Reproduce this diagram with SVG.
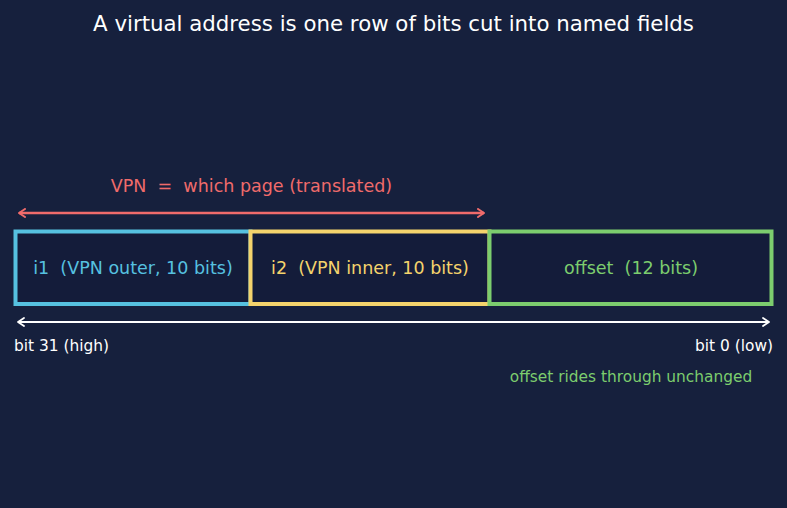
<svg xmlns="http://www.w3.org/2000/svg" width="787" height="508" viewBox="0 0 787 508">
<defs>
<style>
text{font-family:"DejaVu Sans","Liberation Sans",sans-serif;white-space:pre}
.field{fill:#141c3a;stroke-width:4}
.lbl{font-size:17.5px;text-anchor:middle}
.small{font-size:15.4px}
</style>
<marker id="ahRed" viewBox="0 0 10 10" refX="8" refY="5" markerWidth="10" markerHeight="10" markerUnits="userSpaceOnUse" orient="auto-start-reverse">
<polyline points="2,1 8,5 2,9" fill="none" stroke="#f06b6b" stroke-width="2" stroke-linecap="round" stroke-linejoin="round"/>
</marker>
<marker id="ahWhite" viewBox="0 0 10 10" refX="8" refY="5" markerWidth="10" markerHeight="10" markerUnits="userSpaceOnUse" orient="auto-start-reverse">
<polyline points="2,1 8,5 2,9" fill="none" stroke="#ffffff" stroke-width="1.8" stroke-linecap="round" stroke-linejoin="round"/>
</marker>
</defs>
<rect x="0" y="0" width="787" height="508" fill="#16203d"/>
<text x="393.5" y="31" font-size="21.3" fill="#ffffff" text-anchor="middle">A virtual address is one row of bits cut into named fields</text>
<g id="i1">
<rect class="field" x="15.5" y="231.5" width="235" height="72.5" stroke="#56c1e0"/>
<text class="lbl" x="133" y="273.5" fill="#56c1e0" xml:space="preserve">i1  (VPN outer, 10 bits)</text>
</g>
<g id="i2">
<rect class="field" x="250.5" y="231.5" width="239" height="72.5" stroke="#f4d36c"/>
<text class="lbl" x="370" y="273.5" fill="#f4d36c" xml:space="preserve">i2  (VPN inner, 10 bits)</text>
</g>
<g id="offset">
<rect class="field" x="489.5" y="231.5" width="282" height="72.5" stroke="#7ccd6e"/>
<text class="lbl" x="631" y="273.5" fill="#7ccd6e" xml:space="preserve">offset  (12 bits)</text>
</g>
<g id="connectors">
<line x1="19" y1="213" x2="484" y2="213" stroke="#f06b6b" stroke-width="2.5" marker-start="url(#ahRed)" marker-end="url(#ahRed)"/>
<line x1="18" y1="322" x2="769" y2="322" stroke="#ffffff" stroke-width="1.8" marker-start="url(#ahWhite)" marker-end="url(#ahWhite)"/>
</g>
<text x="251.5" y="192" font-size="17.5" fill="#f06b6b" text-anchor="middle" xml:space="preserve">VPN  =  which page (translated)</text>
<text class="small" x="14" y="351" fill="#ffffff">bit 31 (high)</text>
<text class="small" x="773" y="351" fill="#ffffff" text-anchor="end">bit 0 (low)</text>
<text class="small" x="631" y="382" fill="#7ccd6e" text-anchor="middle">offset rides through unchanged</text>
</svg>
